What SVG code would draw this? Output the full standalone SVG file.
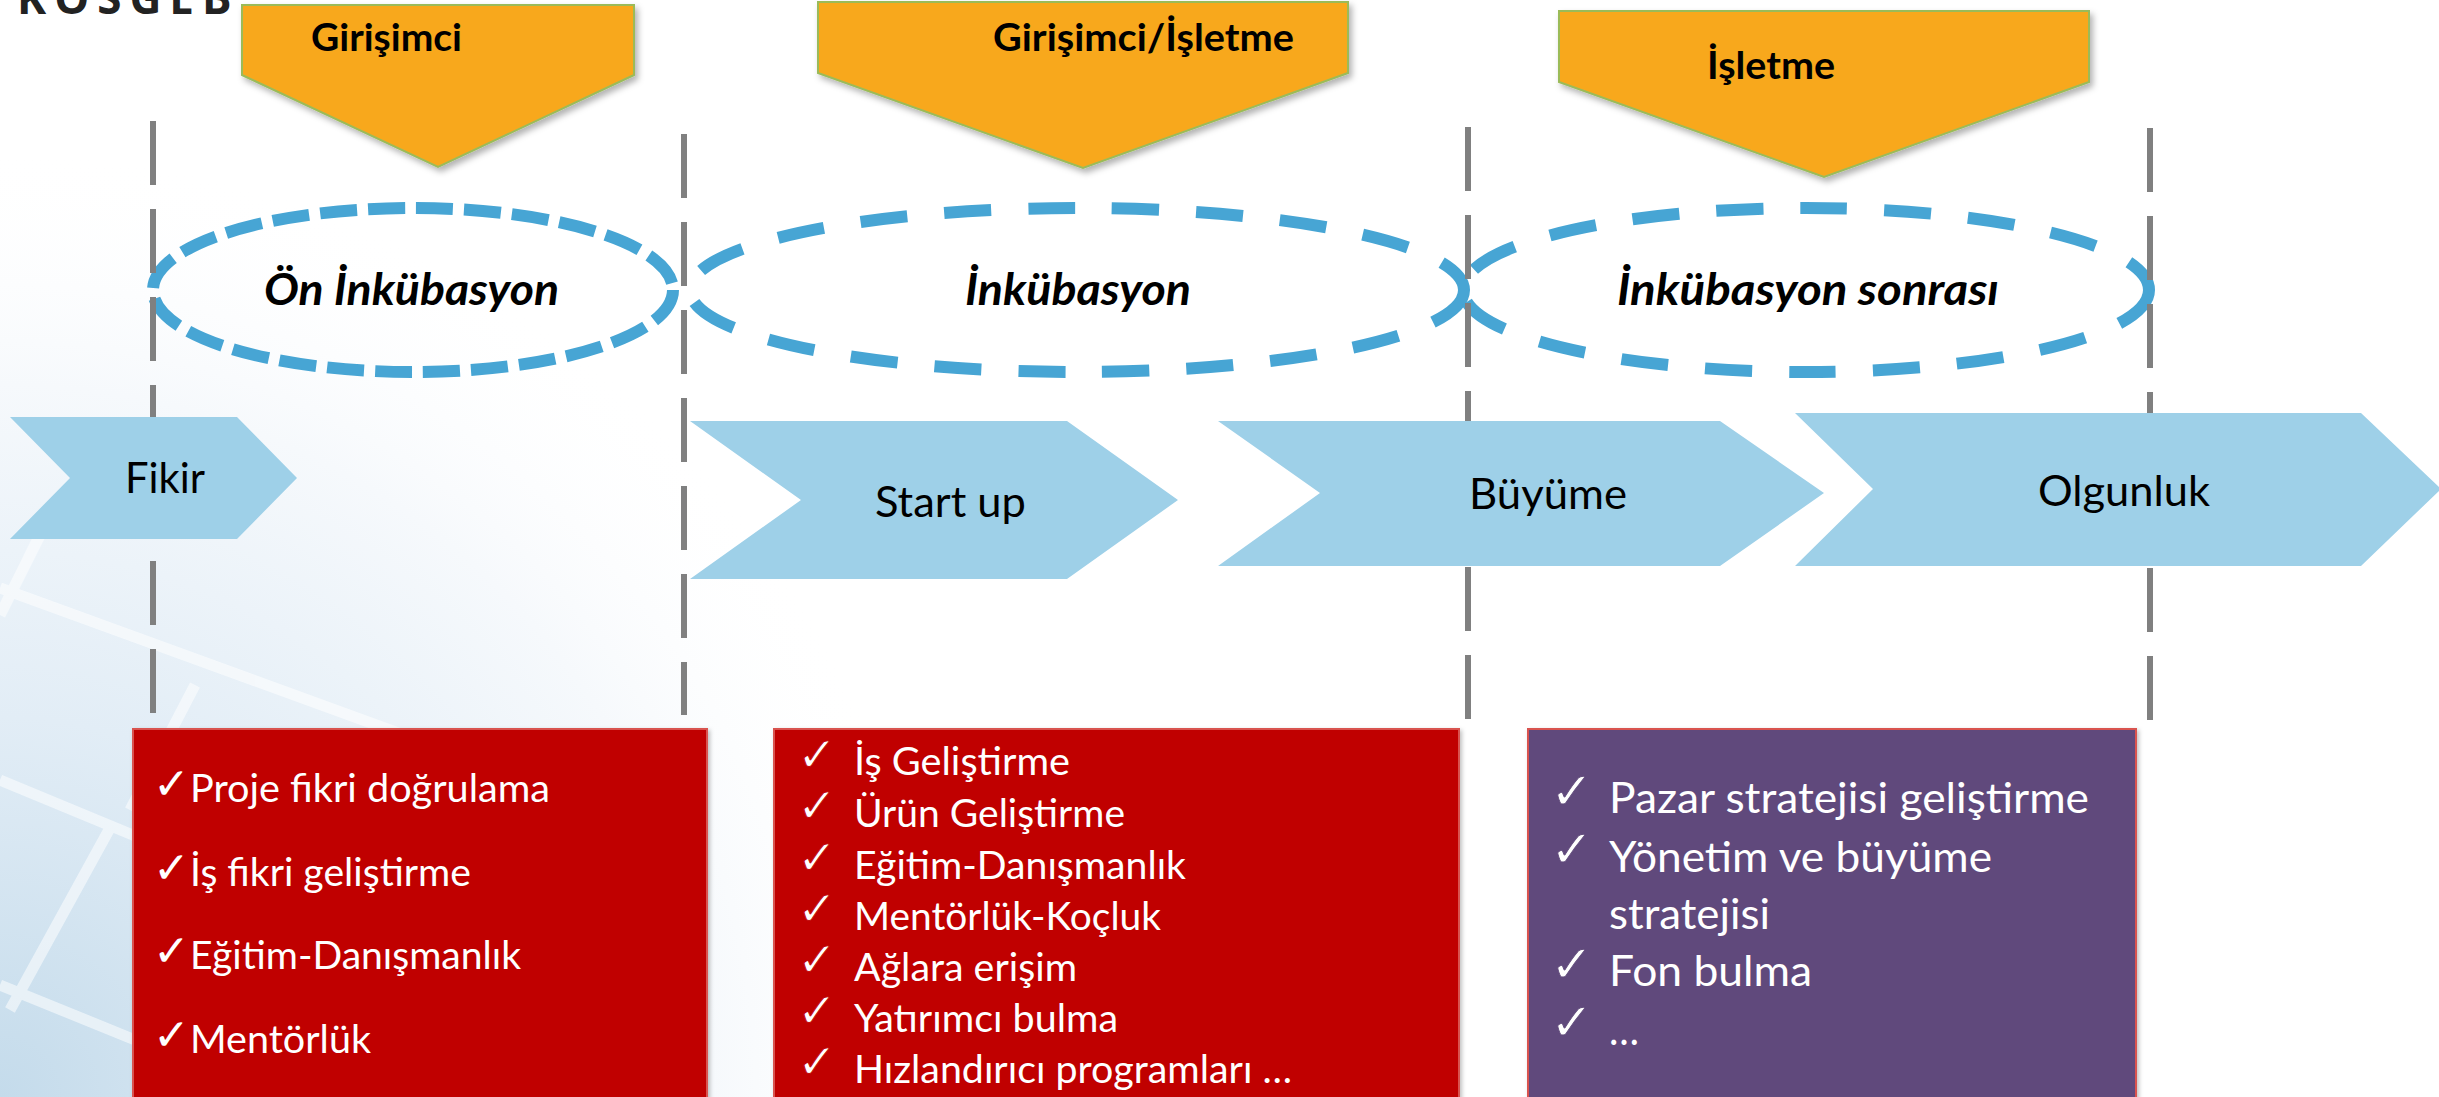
<svg xmlns="http://www.w3.org/2000/svg" width="2439" height="1097" viewBox="0 0 2439 1097">
<defs>
  <radialGradient id="bgGrad" cx="0" cy="1097" r="950" gradientUnits="userSpaceOnUse">
    <stop offset="0" stop-color="#c4dbeb"/>
    <stop offset="0.4" stop-color="#e2edf6"/>
    <stop offset="0.75" stop-color="#f6f9fc"/>
    <stop offset="1" stop-color="#ffffff" stop-opacity="0"/>
  </radialGradient>
  <filter id="shadow" x="-10%" y="-10%" width="130%" height="130%">
    <feDropShadow dx="3" dy="4" stdDeviation="3" flood-color="#000" flood-opacity="0.3"/>
  </filter>
  <filter id="bshadow" x="-5%" y="-5%" width="110%" height="110%">
    <feDropShadow dx="2" dy="2" stdDeviation="2" flood-color="#000" flood-opacity="0.25"/>
  </filter>
</defs>
<style>
  .pent { fill: #F8A81F; stroke: #9BBB59; stroke-width: 2; filter: url(#shadow); }
  .pentText { font-family: Lato, "Open Sans", sans-serif; font-weight: bold; font-size: 38px; fill: #000; }
  .ell { fill: none; stroke: #47A5D4; stroke-width: 12; }
  .ellText { font-family: Lato, "Open Sans", sans-serif; font-weight: bold; font-style: italic; font-size: 43px; fill: #000; }
  .vline { stroke: #808080; stroke-width: 6; stroke-dasharray: 64 24; }
  .chev { fill: #9ED0E8; }
  .chevText { font-family: Lato, "Open Sans", sans-serif; font-size: 42px; fill: #000; }
  .redBox { fill: #C00000; stroke: #D9534F; stroke-width: 2; filter: url(#bshadow); }
  .purBox { fill: #604A7B; stroke: #D9534F; stroke-width: 2; filter: url(#bshadow); }
  .item { font-family: Lato, "Open Sans", sans-serif; fill: #fff; font-size: 38px; }
  .item3 { font-family: Lato, "Open Sans", sans-serif; fill: #fff; font-size: 42px; }
  .chk { font-family: "DejaVu Sans", sans-serif; fill: #fff; }
  .chkR { stroke: #C00000; stroke-width: 0.9; }
  .chkP { stroke: #604A7B; stroke-width: 0.9; }
  .chk1 { font-size: 44px; }
  .chk2 { font-size: 48px; }
  .chk3 { font-size: 52px; }
  .logo { font-family: "Open Sans", sans-serif; font-weight: bold; font-size: 44px; fill: #222; letter-spacing: 8px; }
</style>

<!-- background -->
<rect x="0" y="0" width="2439" height="1097" fill="#ffffff"/>
<rect x="0" y="140" width="1000" height="957" fill="url(#bgGrad)"/>
<g stroke="#ffffff" stroke-width="11" opacity="0.55" fill="none">
  <line x1="0" y1="588" x2="500" y2="770"/>
  <line x1="0" y1="780" x2="140" y2="838"/>
  <line x1="0" y1="985" x2="140" y2="1042"/>
  <line x1="110" y1="828" x2="10" y2="1010"/>
  <line x1="195" y1="685" x2="130" y2="810"/>
  <line x1="40" y1="535" x2="0" y2="615"/>
</g>

<text class="logo" x="17" y="14">KOSGEB</text>

<!-- connectors / dashed separators -->
<g id="connectors">
  <line class="vline" x1="153" y1="121" x2="153" y2="713"/>
  <line class="vline" x1="684" y1="134" x2="684" y2="715"/>
  <line class="vline" x1="1468" y1="127" x2="1468" y2="719"/>
  <line class="vline" x1="2150" y1="128" x2="2150" y2="720"/>
</g>

<!-- actor pentagons -->
<g id="actor-girisimci">
  <polygon class="pent" points="242,5 634,5 634,75 438,167 242,75"/>
  <text class="pentText" x="311" y="51" textLength="151" lengthAdjust="spacingAndGlyphs">Girişimci</text>
</g>
<g id="actor-girisimci-isletme">
  <polygon class="pent" points="818,2 1348,2 1348,73 1083,168 818,73"/>
  <text class="pentText" x="993" y="51" textLength="301" lengthAdjust="spacingAndGlyphs">Girişimci/İşletme</text>
</g>
<g id="actor-isletme">
  <polygon class="pent" points="1559,11 2089,11 2089,82 1824,177 1559,82"/>
  <text class="pentText" x="1707" y="79" textLength="128" lengthAdjust="spacingAndGlyphs">İşletme</text>
</g>

<!-- phase ellipses -->
<g id="phase-on-inkubasyon">
  <ellipse class="ell" cx="413" cy="290" rx="260" ry="82" stroke-dasharray="37 11"/>
  <text class="ellText" x="264" y="305" textLength="295" lengthAdjust="spacingAndGlyphs">Ön İnkübasyon</text>
</g>
<g id="phase-inkubasyon">
  <ellipse class="ell" cx="1077" cy="290" rx="387" ry="82" stroke-dasharray="47 37"/>
  <text class="ellText" x="965" y="305" textLength="226" lengthAdjust="spacingAndGlyphs">İnkübasyon</text>
</g>
<g id="phase-inkubasyon-sonrasi">
  <ellipse class="ell" cx="1806" cy="290" rx="343" ry="82" stroke-dasharray="47 37"/>
  <text class="ellText" x="1617" y="305" textLength="382" lengthAdjust="spacingAndGlyphs">İnkübasyon sonrası</text>
</g>

<!-- separators drawn again over the ellipses -->
<g id="connectors-top">
  <line class="vline" x1="153" y1="121" x2="153" y2="713"/>
  <line class="vline" x1="684" y1="134" x2="684" y2="715"/>
  <line class="vline" x1="1468" y1="127" x2="1468" y2="719"/>
  <line class="vline" x1="2150" y1="128" x2="2150" y2="720"/>
</g>

<!-- stage chevrons -->
<g id="stage-fikir">
  <polygon class="chev" points="10,417 237,417 297,478 237,539 10,539 70,478"/>
  <text class="chevText" x="125" y="493" textLength="80" lengthAdjust="spacingAndGlyphs">Fikir</text>
</g>
<g id="stage-startup">
  <polygon class="chev" points="690,421 1067,421 1178,500 1067,579 690,579 801,500"/>
  <text class="chevText" x="875" y="517" textLength="151" lengthAdjust="spacingAndGlyphs">Start up</text>
</g>
<g id="stage-buyume">
  <polygon class="chev" points="1218,421 1720,421 1824,493 1720,566 1218,566 1320,493"/>
  <text class="chevText" x="1469" y="509" textLength="158" lengthAdjust="spacingAndGlyphs">Büyüme</text>
</g>
<g id="stage-olgunluk">
  <polygon class="chev" points="1795,413 2361,413 2441,489 2361,566 1795,566 1873,489"/>
  <text class="chevText" x="2038" y="506" textLength="172" lengthAdjust="spacingAndGlyphs">Olgunluk</text>
</g>

<!-- box 1 -->
<g id="box-on-inkubasyon">
  <rect class="redBox" x="133" y="729" width="574" height="380"/>
  <text class="chk chk1" x="153" y="799">✓</text>
  <text class="item" x="190" y="802" textLength="360" lengthAdjust="spacingAndGlyphs">Proje fikri doğrulama</text>
  <text class="chk chk1" x="153" y="883">✓</text>
  <text class="item" x="190" y="886" textLength="281" lengthAdjust="spacingAndGlyphs">İş fikri geliştirme</text>
  <text class="chk chk1" x="153" y="966">✓</text>
  <text class="item" x="190" y="969" textLength="331" lengthAdjust="spacingAndGlyphs">Eğitim-Danışmanlık</text>
  <text class="chk chk1" x="153" y="1050">✓</text>
  <text class="item" x="190" y="1053" textLength="181" lengthAdjust="spacingAndGlyphs">Mentörlük</text>
</g>

<!-- box 2 -->
<g id="box-inkubasyon">
  <rect class="redBox" x="774" y="729" width="685" height="380"/>
  <text class="chk chkR chk2" x="797" y="771">✓</text>
  <text class="item" x="854" y="775" textLength="216" lengthAdjust="spacingAndGlyphs">İş Geliştirme</text>
  <text class="chk chkR chk2" x="797" y="822">✓</text>
  <text class="item" x="854" y="827" textLength="271" lengthAdjust="spacingAndGlyphs">Ürün Geliştirme</text>
  <text class="chk chkR chk2" x="797" y="874">✓</text>
  <text class="item" x="854" y="879" textLength="332" lengthAdjust="spacingAndGlyphs">Eğitim-Danışmanlık</text>
  <text class="chk chkR chk2" x="797" y="925">✓</text>
  <text class="item" x="854" y="930" textLength="307" lengthAdjust="spacingAndGlyphs">Mentörlük-Koçluk</text>
  <text class="chk chkR chk2" x="797" y="976">✓</text>
  <text class="item" x="854" y="981" textLength="223" lengthAdjust="spacingAndGlyphs">Ağlara erişim</text>
  <text class="chk chkR chk2" x="797" y="1027">✓</text>
  <text class="item" x="854" y="1032" textLength="264" lengthAdjust="spacingAndGlyphs">Yatırımcı bulma</text>
  <text class="chk chkR chk2" x="797" y="1078">✓</text>
  <text class="item" x="854" y="1083" textLength="438" lengthAdjust="spacingAndGlyphs">Hızlandırıcı programları …</text>
</g>

<!-- box 3 -->
<g id="box-inkubasyon-sonrasi">
  <rect class="purBox" x="1528" y="729" width="608" height="380"/>
  <text class="chk chkP chk3" x="1550" y="809">✓</text>
  <text class="item3" x="1609" y="813" textLength="480" lengthAdjust="spacingAndGlyphs">Pazar stratejisi geliştirme</text>
  <text class="chk chkP chk3" x="1550" y="867">✓</text>
  <text class="item3" x="1609" y="872" textLength="383" lengthAdjust="spacingAndGlyphs">Yönetim ve büyüme</text>
  <text class="item3" x="1609" y="929" textLength="161" lengthAdjust="spacingAndGlyphs">stratejisi</text>
  <text class="chk chkP chk3" x="1550" y="982">✓</text>
  <text class="item3" x="1609" y="986" textLength="203" lengthAdjust="spacingAndGlyphs">Fon bulma</text>
  <text class="chk chkP chk3" x="1550" y="1040">✓</text>
  <text class="item3" x="1609" y="1045" textLength="30" lengthAdjust="spacingAndGlyphs">…</text>
</g>
</svg>
